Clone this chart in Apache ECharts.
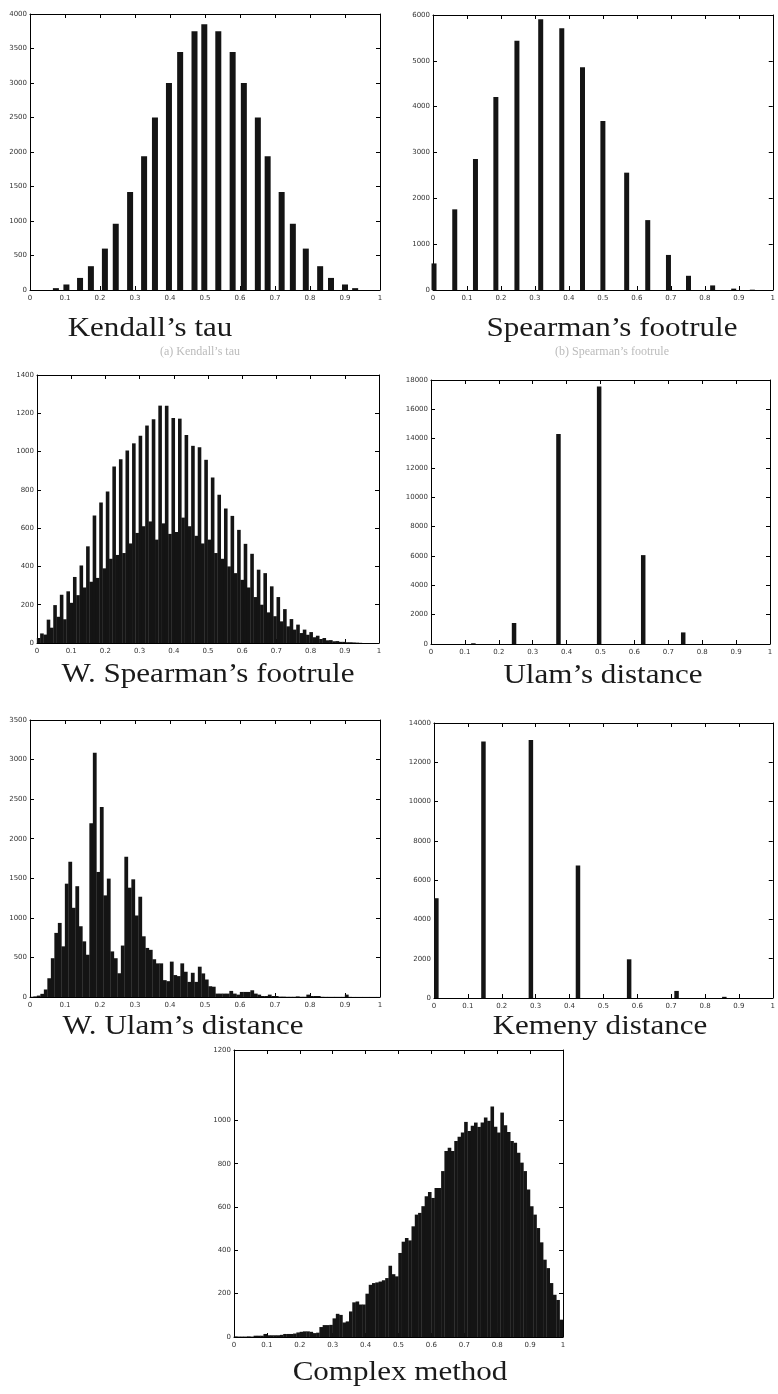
<!DOCTYPE html>
<html><head><meta charset="utf-8">
<script src="https://cdn.jsdelivr.net/npm/echarts@6/dist/echarts.min.js"></script>
<style>html,body{margin:0;padding:0;background:#fff}#c{width:778px;height:1394px}</style>
</head><body><div id="c"></div>
<script>
// ---------- tick labels ----------
const xTickLabels = ['0','0.1','0.2','0.3','0.4','0.5','0.6','0.7','0.8','0.9','1'];

// ---------- (a) Kendall's tau ----------
const kendallX = [0.074,0.104,0.143,0.174,0.214,0.245,0.286,0.326,0.357,0.397,0.429,0.470,0.498,0.538,0.579,0.611,0.651,0.679,0.719,0.751,0.788,0.829,0.860,0.900,0.929];
const kendallY = [27,80,175,345,600,960,1420,1940,2500,3000,3450,3750,3850,3750,3450,3000,2500,1940,1420,960,600,345,175,80,27];

// ---------- (b) Spearman's footrule ----------
const spearX = [0.003,0.064,0.125,0.185,0.247,0.317,0.379,0.440,0.500,0.570,0.632,0.693,0.752,0.823,0.885,0.940];
const spearY = [580,1760,2860,4210,5440,5910,5710,4860,3690,2560,1525,765,310,100,30,7];

// ---------- (c) W. Spearman's footrule (histogram, bin width 0.0096) ----------
const wSpearBinWidth = 0.0096;
const wSpearCounts = [
  26,50,44,122,80,198,137,252,124,270,
  210,345,250,405,290,505,320,666,340,734,
  390,791,440,922,460,960,470,1005,520,1043,
  575,1082,610,1136,635,1169,540,1240,625,1240,
  570,1176,580,1172,655,1087,610,1030,560,1023,
  520,957,540,864,470,774,440,703,400,664,
  365,591,330,518,290,466,240,383,200,365,
  160,296,140,240,113,177,87,125,70,96,
  52,70,43,57,30,38,21,26,14,15,
  9,10,6,6,4,4,3,2,1,0];

// ---------- (d) Ulam's distance ----------
const ulamX = [0.125,0.245,0.376,0.496,0.626,0.744,0.875];
const ulamY = [50,1430,14320,17560,6060,790,1];

// ---------- (e) W. Ulam's distance (histogram, bin width 0.01) ----------
const wUlamBinWidth = 0.01;
const wUlamCounts = [
  3,8,18,40,95,237,490,810,936,640,
  1432,1708,1127,1400,894,703,534,2195,3085,1580,
  2400,1284,1496,576,490,300,650,1771,1381,1487,
  1030,1267,767,620,596,477,425,425,213,200,
  447,277,264,425,319,191,306,191,383,298,
  221,136,130,43,43,43,43,77,43,30,
  64,64,64,85,43,30,13,13,30,13,
  13,5,5,3,3,3,8,3,3,30,
  13,13,13,3,2,2,2,2,2,2,
  30,2,1,1,1,1,1,1,1,1];

// ---------- (f) Kemeny distance ----------
const kemenyX = [0.007,0.146,0.286,0.425,0.576,0.716,0.857];
const kemenyY = [5080,13060,13130,6740,1970,360,60];

// ---------- (g) Complex method (histogram, bin width 0.01) ----------
const complexBinWidth = 0.01;
const complexCounts = [
  3,2,2,2,3,2,6,6,6,14,
  8,8,8,8,10,14,14,14,16,21,
  24,26,26,24,18,20,46,55,55,56,
  86,107,102,67,72,118,160,164,150,150,
  200,241,249,252,256,262,272,329,290,280,
  388,440,457,446,511,565,573,604,650,669,
  642,688,688,766,859,874,859,905,925,944,
  993,951,975,990,970,990,1013,998,1064,971,
  944,1036,978,947,905,897,851,805,766,681,
  604,565,503,437,357,318,249,195,171,80];
// y ticks of the complex panel as printed (top label sits at the frame top)
const complexYTicks = [0,200,400,600,800,1000];
const complexYTop = 1325;
const complexYTopLabel = '1200';

// ---------- captions ----------
const captions = ["Kendall\u2019s tau","Spearman\u2019s footrule","W. Spearman\u2019s footrule","Ulam\u2019s distance","W. Ulam\u2019s distance","Kemeny distance","Complex method"];
const subCaptions = ["(a) Kendall\u2019s tau","(b) Spearman\u2019s footrule"];

// ---------- helpers ----------
const pairs = (xs, ys) => xs.map((x, i) => [x, ys[i]]);
const hist = (counts, w) => counts.map((c, i) => [(i + 0.5) * w, c]);

const panels = [
  {left:30,  top:14,   width:350, height:276, yMax:4000,  yInt:500,  barW:6,   data:pairs(kendallX,kendallY), cap:0, capX:150, capY:342},
  {left:433, top:15,   width:346, height:275, yMax:6000,  yInt:1000, barW:5,   data:pairs(spearX,spearY), cap:1, capX:612, capY:342},
  {left:37,  top:375,  width:342, height:268, yMax:1400,  yInt:200,  barW:3.6, data:hist(wSpearCounts,wSpearBinWidth), cap:2, capX:208, capY:688},
  {left:431, top:380,  width:339, height:264, yMax:18000, yInt:2000, barW:4.5, data:pairs(ulamX,ulamY), cap:3, capX:603, capY:689},
  {left:30,  top:720,  width:350, height:277, yMax:3500,  yInt:500,  barW:3.8, data:hist(wUlamCounts,wUlamBinWidth), cap:4, capX:183, capY:1040},
  {left:434, top:723,  width:345, height:275, yMax:14000, yInt:2000, barW:4.5, data:pairs(kemenyX,kemenyY), cap:5, capX:600, capY:1040},
  {left:234, top:1050, width:329, height:287, yMax:complexYTop, yInt:200, barW:3.6, data:hist(complexCounts,complexBinWidth), cap:6, capX:400, capY:1386,
   yTicks: complexYTicks, yLabels: complexYTicks.concat([complexYTop]),
   yFmt: v => (v === complexYTop ? complexYTopLabel : String(v))}
];

const grids = [], xAxes = [], yAxes = [], series = [], graphics = [];
const axLine = {show:true, onZero:false, lineStyle:{color:'#000', width:1}};
const tickBase = {show:true, inside:true, length:4, lineStyle:{color:'#000', width:1}};
const lblFont = {fontSize:7, color:'#333', fontFamily:'DejaVu Sans'};

panels.forEach((p, gi) => {
  grids.push({left:p.left, top:p.top, width:p.width, height:p.height});
  xAxes.push({gridIndex:gi, type:'value', min:0, max:1, interval:0.1, position:'bottom',
    axisLine:axLine, axisTick:tickBase, splitLine:{show:false},
    axisLabel:Object.assign({margin:5, formatter:v => xTickLabels[Math.round(v*10)]}, lblFont)});
  xAxes.push({gridIndex:gi, type:'value', min:0, max:1, interval:0.1, position:'top',
    axisLine:axLine, axisTick:tickBase, splitLine:{show:false}, axisLabel:{show:false}});
  const yTick = p.yTicks ? Object.assign({customValues:p.yTicks}, tickBase) : tickBase;
  const yLbl = Object.assign({margin:3, showMaxLabel:true, formatter:p.yFmt || (v => String(v))}, lblFont);
  if (p.yLabels) yLbl.customValues = p.yLabels;
  yAxes.push({gridIndex:gi, type:'value', min:0, max:p.yMax, interval:p.yInt, position:'left',
    axisLine:axLine, axisTick:yTick, splitLine:{show:false}, axisLabel:yLbl});
  yAxes.push({gridIndex:gi, type:'value', min:0, max:p.yMax, interval:p.yInt, position:'right',
    axisLine:axLine, axisTick:yTick, splitLine:{show:false}, axisLabel:{show:false}});
  series.push({type:'bar', xAxisIndex:2*gi, yAxisIndex:2*gi, data:p.data, barWidth:p.barW,
    itemStyle:{color:'#141414'}, silent:true, animation:false});
  graphics.push({type:'text', x:p.capX, y:p.capY, scaleX:1.15, scaleY:1,
    style:{text:captions[p.cap], font:'27px "Liberation Serif"', fill:'#1a1a1a',
      textAlign:'center', textVerticalAlign:'bottom', align:'center', verticalAlign:'bottom'}});
});
graphics.push({type:'text', x:200, y:352, style:{text:subCaptions[0], font:'12px "Liberation Serif"', fill:'#bbb', textAlign:'center', textVerticalAlign:'middle', align:'center', verticalAlign:'middle'}});
graphics.push({type:'text', x:612, y:352, style:{text:subCaptions[1], font:'12px "Liberation Serif"', fill:'#bbb', textAlign:'center', textVerticalAlign:'middle', align:'center', verticalAlign:'middle'}});

const chart = echarts.init(document.getElementById('c'), null, {renderer:'canvas', width:778, height:1394});
chart.setOption({
  animation:false,
  backgroundColor:'#fff',
  grid:grids, xAxis:xAxes, yAxis:yAxes, series:series, graphic:graphics
});
</script>
</body></html>
